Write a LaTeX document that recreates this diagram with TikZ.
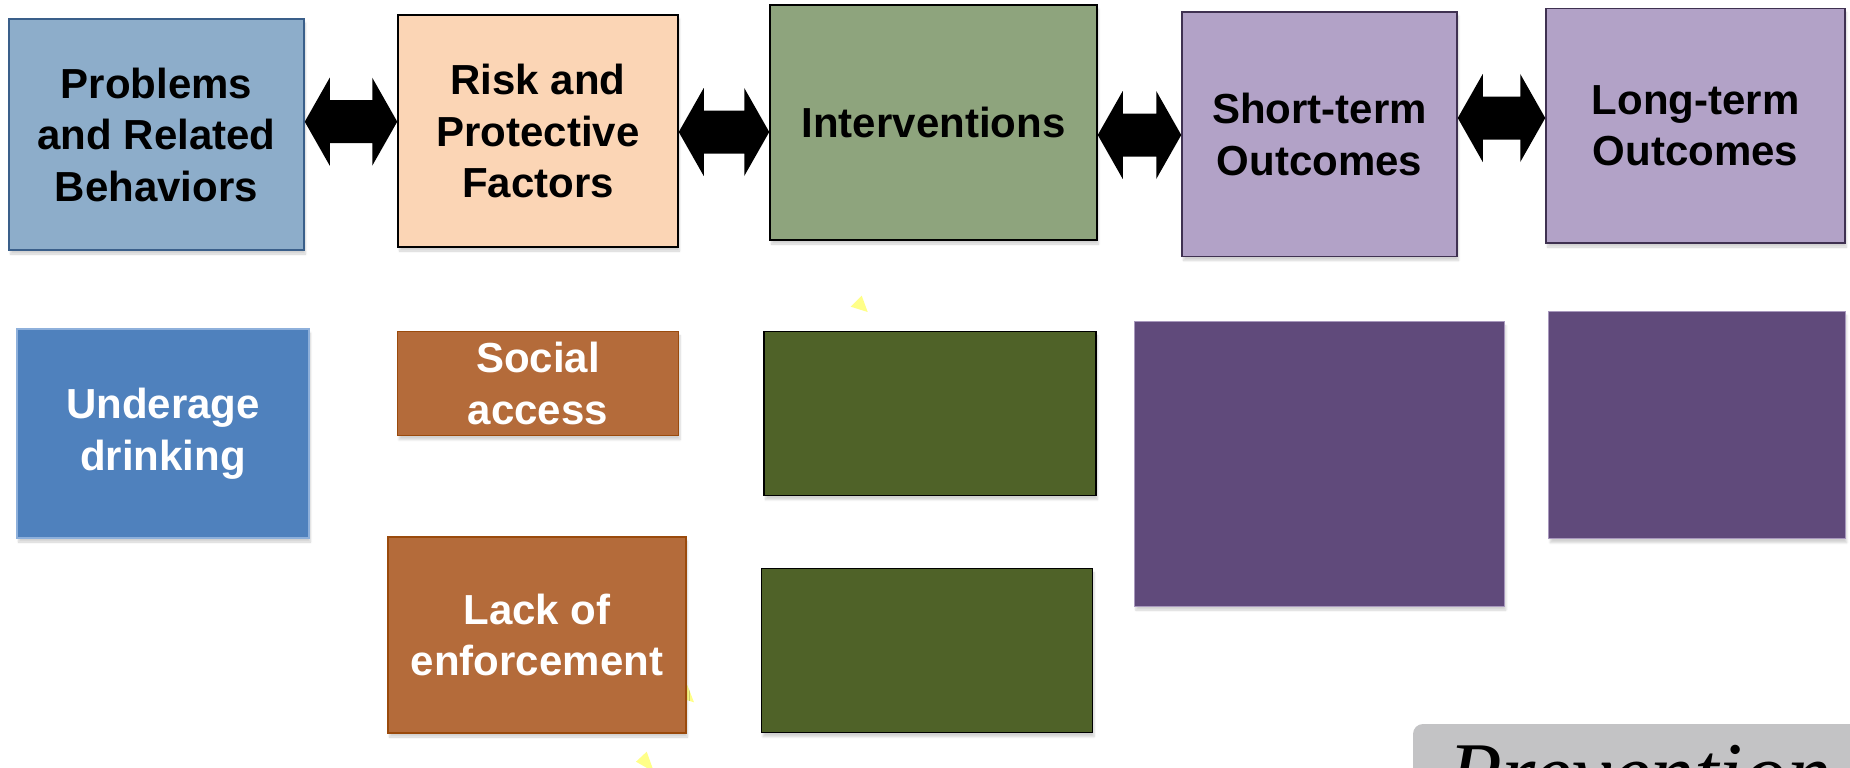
\documentclass[tikz,border=0pt]{standalone}
\usepackage{fontspec}
\setmainfont{Liberation Sans}
\newfontfamily\handfont{Liberation Serif}
\usetikzlibrary{calc,shadows.blur}
\definecolor{probfill}{HTML}{8DADCA}
\definecolor{probline}{HTML}{3A5F8A}
\definecolor{riskfill}{HTML}{FBD5B5}
\definecolor{intfill}{HTML}{8EA47D}
\definecolor{outfill}{HTML}{B2A2C7}
\definecolor{outline}{HTML}{3F3151}
\definecolor{underfill}{HTML}{4F81BD}
\definecolor{underline}{HTML}{8EB0DB}
\definecolor{brownfill}{HTML}{B46B3A}
\definecolor{brownline}{HTML}{9A4A0C}
\definecolor{greenfill}{HTML}{4F6228}
\definecolor{purpfill}{HTML}{604A7B}
\definecolor{purpline}{HTML}{A898BD}
\definecolor{yellowtri}{HTML}{FFFF88}
\definecolor{grayfill}{HTML}{C3C3C5}
\newcommand\dblarrow[3]{%
  \fill[black] (#1.east |- 0,#3)
   -- ($(#1.east |- 0,#3-44)+(25,0)$) -- ($(#1.east |- 0,#3-21.5)+(25,0)$)
   -- ($(#2.west |- 0,#3-21.5)+(-25,0)$) -- ($(#2.west |- 0,#3-44)+(-25,0)$)
   -- (#2.west |- 0,#3)
   -- ($(#2.west |- 0,#3+44)+(-25,0)$) -- ($(#2.west |- 0,#3+21.5)+(-25,0)$)
   -- ($(#1.east |- 0,#3+21.5)+(25,0)$) -- ($(#1.east |- 0,#3+44)+(25,0)$)
   -- cycle;}
\begin{document}
\begin{tikzpicture}[x=1pt,y=-1pt,
  box/.style={rectangle, line width=1.5pt, inner sep=0pt, align=center,
    font=\fontsize{42}{51.5}\selectfont\bfseries,
    blur shadow={shadow xshift=1.5pt, shadow yshift=-4pt, shadow opacity=18, shadow blur steps=6}},
  topbox/.style={box, text=black},
  lowbox/.style={box, text=white},
  tri/.style={fill=yellowtri}]
\useasboundingbox (0,0) rectangle (1850,768);
\clip (0,0) rectangle (1850,768);
% yellow triangles (behind)
\fill[tri] (861.7,295.7) -- (850.7,306.7) -- (867.7,312) -- cycle;
\fill[tri] (687.3,685) -- (677,697) -- (694,702.3) -- cycle;
\fill[tri] (646.7,751.7) -- (636,761.7) -- (654,772) -- cycle;
% top row
\node[topbox, fill=probfill, draw=probline, minimum width=295pt, minimum height=231pt] (prob) at (156.5,134.5) {Problems\\and Related\\Behaviors};
\node[topbox, fill=riskfill, draw=black, minimum width=280pt, minimum height=232pt] (risk) at (538,131) {Risk and\\Protective\\Factors};
\node[topbox, fill=intfill, draw=black, minimum width=327pt, minimum height=235pt] (intv) at (933.5,122.5) {Interventions};
\node[topbox, fill=outfill, draw=outline, minimum width=275pt, minimum height=244.5pt] (short) at (1319.5,134.25) {Short-term\\Outcomes};
\node[topbox, fill=outfill, draw=outline, minimum width=299pt, minimum height=234.7pt] (long) at (1695.5,125.7) {Long-term\\Outcomes};
% double arrows
\dblarrow{prob}{risk}{121.7}
\dblarrow{risk}{intv}{132}
\dblarrow{intv}{short}{135}
\dblarrow{short}{long}{118}
% lower row
\node[lowbox, fill=underfill, draw=underline, minimum width=292pt, minimum height=209pt] (under) at (163,433.5) {Underage\\drinking};
\node[lowbox, fill=brownfill, draw=brownline, minimum width=281pt, minimum height=104pt] (social) at (538,383.7) {Social\\access};
\node[lowbox, fill=brownfill, draw=brownline, minimum width=298pt, minimum height=196pt] (lack) at (537,635) {Lack of\\enforcement};
\node[lowbox, fill=greenfill, draw=black, minimum width=332pt, minimum height=164pt] (g1) at (930,413.6) {};
\node[lowbox, fill=greenfill, draw=black, minimum width=331pt, minimum height=164pt] (g2) at (927,650.7) {};
\node[lowbox, fill=purpfill, draw=purpline, line width=0.8pt, minimum width=370pt, minimum height=284.3pt] (p1) at (1319.4,463.9) {};
\node[lowbox, fill=purpfill, draw=purpline, line width=0.8pt, minimum width=296.5pt, minimum height=227.4pt] (p2) at (1697,425) {};
% grey panel at bottom right
\fill[grayfill, rounded corners=10pt] (1413,724) rectangle (1880,820);
\node[anchor=base west, inner sep=0pt, font=\handfont\itshape\fontsize{88}{88}\selectfont] (hand) at (1448,803) {Prevention};
\end{tikzpicture}
\end{document}
